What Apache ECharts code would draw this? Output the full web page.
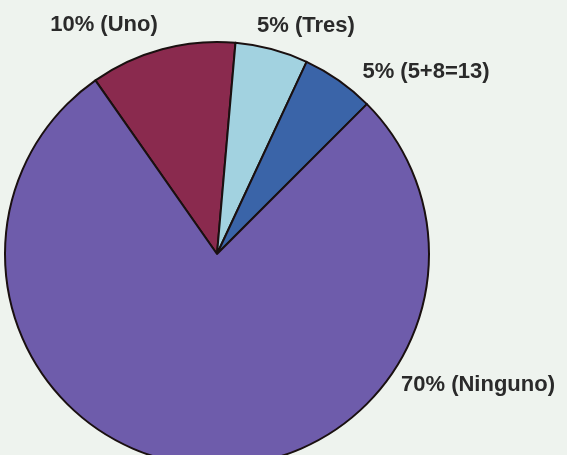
<!DOCTYPE html>
<html>
<head>
<meta charset="utf-8">
<script src="https://cdn.jsdelivr.net/npm/echarts@6/dist/echarts.min.js"></script>
<style>
  html, body { margin: 0; padding: 0; background: #eef3ee; }
  #chart { width: 567px; height: 455px; }
</style>
</head>
<body>
<div id="chart"></div>
<script>
var names = ['Uno', 'Tres', '5+8=13', 'Ninguno'];
var values = [10, 5, 5, 70];
var colors = ['#8a2a4e', '#a2d2e0', '#3a64a8', '#6e5cab'];
// where each label sits (label centre, px)
var labelPos = [[104, 25], [306, 26], [426, 72], [478, 385]];

var chart = echarts.init(document.getElementById('chart'));
chart.setOption({
    backgroundColor: '#eef3ee',
    animation: false,
    color: colors,
    series: [
        {
            type: 'pie',
            center: [217, 254],
            radius: 212,
            startAngle: 125,
            clockwise: true,
            avoidLabelOverlap: false,
            itemStyle: {
                borderColor: '#1a1010',
                borderWidth: 2
            },
            label: {
                show: true,
                position: 'outside',
                formatter: function (p) {
                    return p.value + '% (' + p.name + ')';
                },
                color: '#2a2a2a',
                fontFamily: 'Liberation Sans',
                fontWeight: 'bold',
                fontSize: 22
            },
            labelLine: { show: false },
            labelLayout: function (p) {
                var pos = labelPos[p.dataIndex];
                return { x: pos[0], y: pos[1], align: 'center', verticalAlign: 'middle' };
            },
            data: names.map(function (n, i) {
                return { name: n, value: values[i] };
            })
        }
    ]
});
</script>
</body>
</html>
